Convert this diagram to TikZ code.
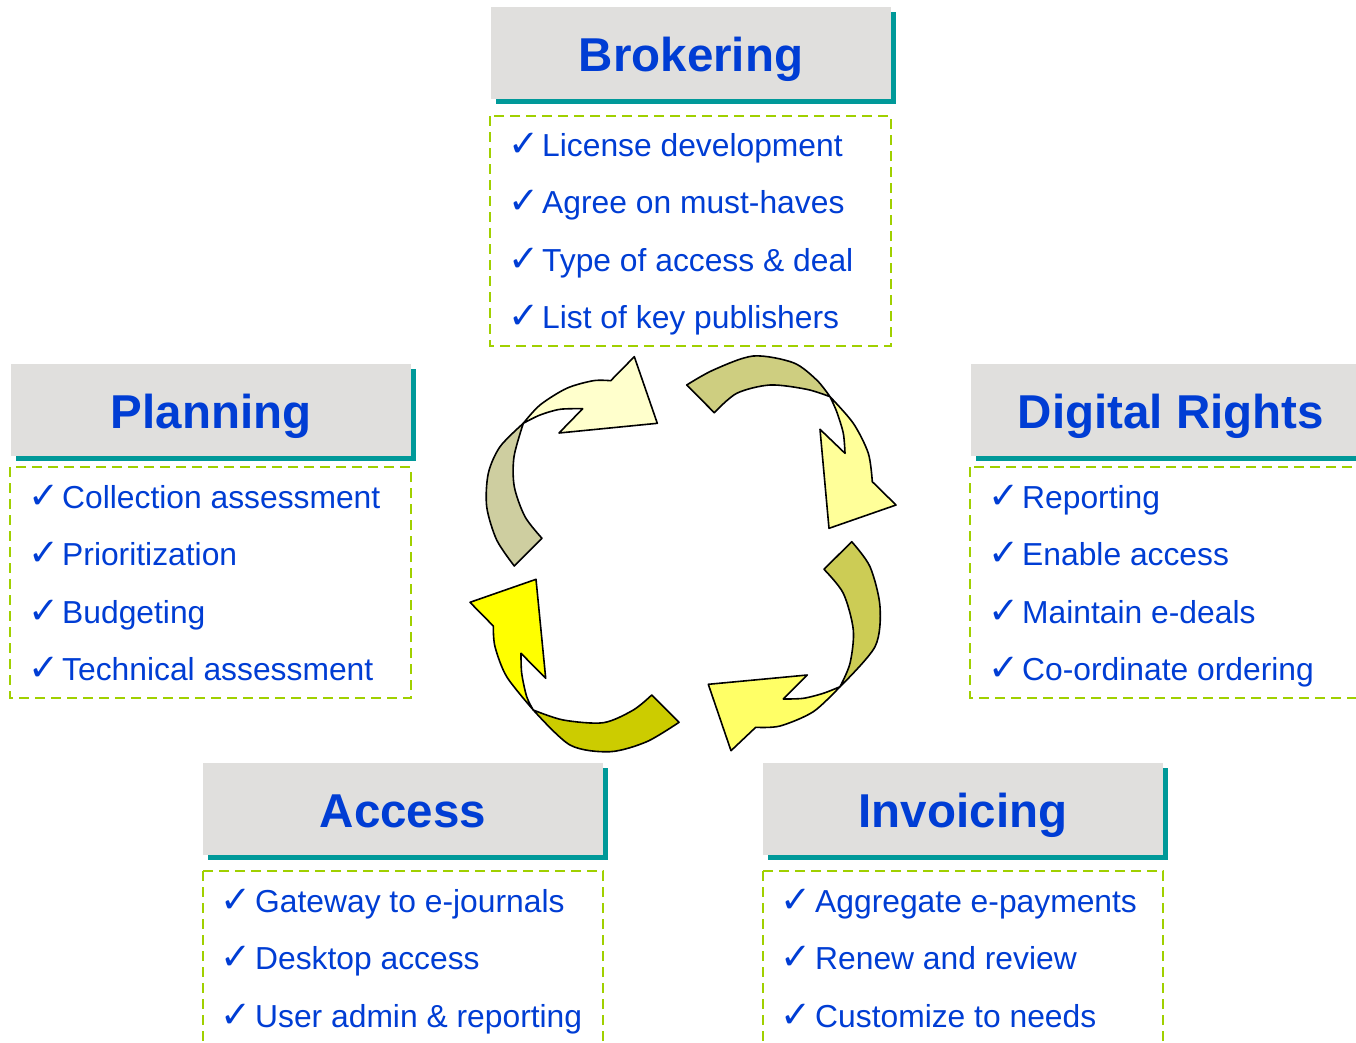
\documentclass[tikz,border=0pt]{standalone}
\usepackage{fontspec}
\setmainfont{Liberation Sans}
\newfontfamily\symfont{DejaVu Sans}

\definecolor{hdrblue}{RGB}{0,61,212}
\definecolor{hdrgray}{RGB}{224,223,221}
\definecolor{hdrteal}{RGB}{0,153,153}
\definecolor{listgreen}{RGB}{160,208,0}
\definecolor{aOneTail}{RGB}{206,206,160}
\definecolor{aOneHead}{RGB}{255,255,204}
\definecolor{aTwoTail}{RGB}{206,206,128}
\definecolor{aTwoHead}{RGB}{255,255,153}
\definecolor{aThreeTail}{RGB}{204,204,85}
\definecolor{aThreeHead}{RGB}{255,255,102}
\definecolor{aFourTail}{RGB}{204,204,0}
\definecolor{aFourHead}{RGB}{255,255,0}

\begin{document}
\begin{tikzpicture}[x=1pt,y=-1pt,
  shadowbox/.style={fill=hdrteal, draw=none, minimum width=400pt, minimum height=92pt, inner sep=0pt},
  titlebox/.style={fill=hdrgray, draw=none, minimum width=400pt, minimum height=92pt, inner sep=0pt,
    text height=36pt, text depth=0pt, font=\fontsize{47.5}{50}\selectfont\bfseries, text=hdrblue},
  listbox/.style={draw=listgreen, line width=2.6pt, dash pattern=on 10pt off 6pt},
  item/.style={anchor=base west, inner sep=0pt, font=\fontsize{31.8}{34}\selectfont, text=hdrblue},
  tick/.style={anchor=base west, inner sep=0pt, font=\symfont\fontsize{37}{40}\selectfont, text=hdrblue},
  band/.style={draw=black, line width=1.6pt, line join=round},
]
\useasboundingbox (0,0) rectangle (1356,1042);
\clip (0,0) rectangle (1356,1042);

% ---------- headers with teal drop shadow ----------
\node[shadowbox] (brokS) at (696,58) {};
\node[titlebox]  (brok)  at (691,53) {Brokering};
\node[shadowbox] (planS) at (216,415) {};
\node[titlebox]  (plan)  at (211,410) {Planning};
\node[shadowbox] (drmS)  at (1176,415) {};
\node[titlebox]  (drm)   at (1171,410) {Digital Rights};
\node[shadowbox] (accS)  at (408,814) {};
\node[titlebox]  (acc)   at (403,809) {Access};
\node[shadowbox] (invS)  at (968,814) {};
\node[titlebox]  (inv)   at (963,809) {Invoicing};

% ---------- dashed task lists ----------
\draw[listbox] (490,116) rectangle (891,346);
\draw[listbox] (10,467) rectangle (411,698);
\draw[listbox] (970,467) rectangle (1370,698);
\draw[listbox] (203,871) rectangle (603,1060);
\draw[listbox] (763,871) rectangle (1163,1060);

% Brokering
\foreach \t [count=\i] in {License development, Agree on must-haves, Type of access \& deal, List of key publishers}{
  \pgfmathsetmacro\yy{156+57.6*(\i-1)}
  \node[tick] (brokC\i) at (508,\yy) {✓};
  \node[item] (brokT\i) at (542,\yy) {\t};
}
% Planning
\foreach \t [count=\i] in {Collection assessment, Prioritization, Budgeting, Technical assessment}{
  \pgfmathsetmacro\yy{508+57.6*(\i-1)}
  \node[tick] (planC\i) at (28,\yy) {✓};
  \node[item] (planT\i) at (62,\yy) {\t};
}
% Digital Rights
\foreach \t [count=\i] in {Reporting, Enable access, Maintain e-deals, Co-ordinate ordering}{
  \pgfmathsetmacro\yy{508+57.6*(\i-1)}
  \node[tick] (drmC\i) at (988,\yy) {✓};
  \node[item] (drmT\i) at (1022,\yy) {\t};
}
% Access
\foreach \t [count=\i] in {Gateway to e-journals, Desktop access, User admin \& reporting}{
  \pgfmathsetmacro\yy{912+57.5*(\i-1)}
  \node[tick] (accC\i) at (220,\yy) {✓};
  \node[item] (accT\i) at (255,\yy) {\t};
}
% Invoicing
\foreach \t [count=\i] in {Aggregate e-payments, Renew and review, Customize to needs}{
  \pgfmathsetmacro\yy{912+57.5*(\i-1)}
  \node[tick] (invC\i) at (780,\yy) {✓};
  \node[item] (invT\i) at (815,\yy) {\t};
}

% ---------- cycle of twisted curved arrows ----------
% arrow 1 (left, pointing up/right)
\filldraw[band, fill=aOneTail] (514.3,566) -- (542,538.3)
  -- plot[smooth] coordinates {(542,538.3) (525,516.7) (514.3,486.7) (514,456.7) (523.3,423.3)}
  -- plot[smooth] coordinates {(523.3,423.3) (500,446.7) (488.3,473.3) (486.7,506.7) (496.7,540) (514.3,566)}
  -- cycle;
\filldraw[band, fill=aOneHead] (523.3,423.3)
  -- plot[smooth] coordinates {(523.3,423.3) (540,405) (566.7,388.3) (593.3,380.7) (610.7,380.7)}
  -- (634.3,356.7) -- (657.3,423.3) -- (559,433) -- (582.7,408.7)
  -- plot[smooth] coordinates {(582.7,408.7) (560,409.3) (540,415) (523.3,423.3)}
  -- cycle;

% arrow 2 (top right, pointing down)
\filldraw[band, fill=aTwoTail] (686.7,385) -- (714.3,412.7)
  -- plot[smooth] coordinates {(714.3,412.7) (736.7,393.3) (770,385) (806.7,389.3) (830,396.7)}
  -- plot[smooth] coordinates {(830,396.7) (816.7,380) (793.3,362.7) (753.3,356) (713.3,370) (686.7,385)}
  -- cycle;
\filldraw[band, fill=aTwoHead] (830,396.7)
  -- plot[smooth] coordinates {(830,396.7) (853.3,423.3) (868.3,453.3) (872.3,481.7)}
  -- (896,505) -- (829,528.3) -- (820,429.3) -- (845,453.3)
  -- plot[smooth] coordinates {(845,453.3) (843.3,433.3) (836.7,411.7) (830,396.7)}
  -- cycle;

% arrow 3 (bottom right, pointing left)
\filldraw[band, fill=aThreeTail] (851.7,541.7) -- (824,569.3)
  -- plot[smooth] coordinates {(824,569.3) (843.3,593.3) (853.3,630) (850,663.3) (840,686.7)}
  -- plot[smooth] coordinates {(840,686.7) (875,646.7) (880,606.7) (870,566.7) (851.7,541.7)}
  -- cycle;
\filldraw[band, fill=aThreeHead] (840,686.7)
  -- plot[smooth] coordinates {(840,686.7) (813.3,711.7) (780,726) (755.7,727.3)}
  -- (731,750.7) -- (708.3,684.3) -- (807.3,675) -- (783.3,699)
  -- plot[smooth] coordinates {(783.3,699) (803.3,698.3) (823.3,693.3) (840,686.7)}
  -- cycle;

% arrow 4 (bottom left, pointing up)
\filldraw[band, fill=aFourTail] (679,722.3) -- (651.7,695)
  -- plot[smooth] coordinates {(651.7,695) (633.3,710) (603.3,722.7) (563.3,720) (533.3,710)}
  -- plot[smooth] coordinates {(533.3,710) (570,745) (610,751.7) (646.7,741.7) (679,722.3)}
  -- cycle;
\filldraw[band, fill=aFourHead] (533.3,710)
  -- plot[smooth] coordinates {(533.3,710) (506.7,676.7) (495,646.7) (493.3,626)}
  -- (470,602.3) -- (536,579.3) -- (545.7,678.3) -- (521,653.3)
  -- plot[smooth] coordinates {(521,653.3) (521.7,673.3) (526.7,696.7) (533.3,710)}
  -- cycle;
\end{tikzpicture}
\end{document}
